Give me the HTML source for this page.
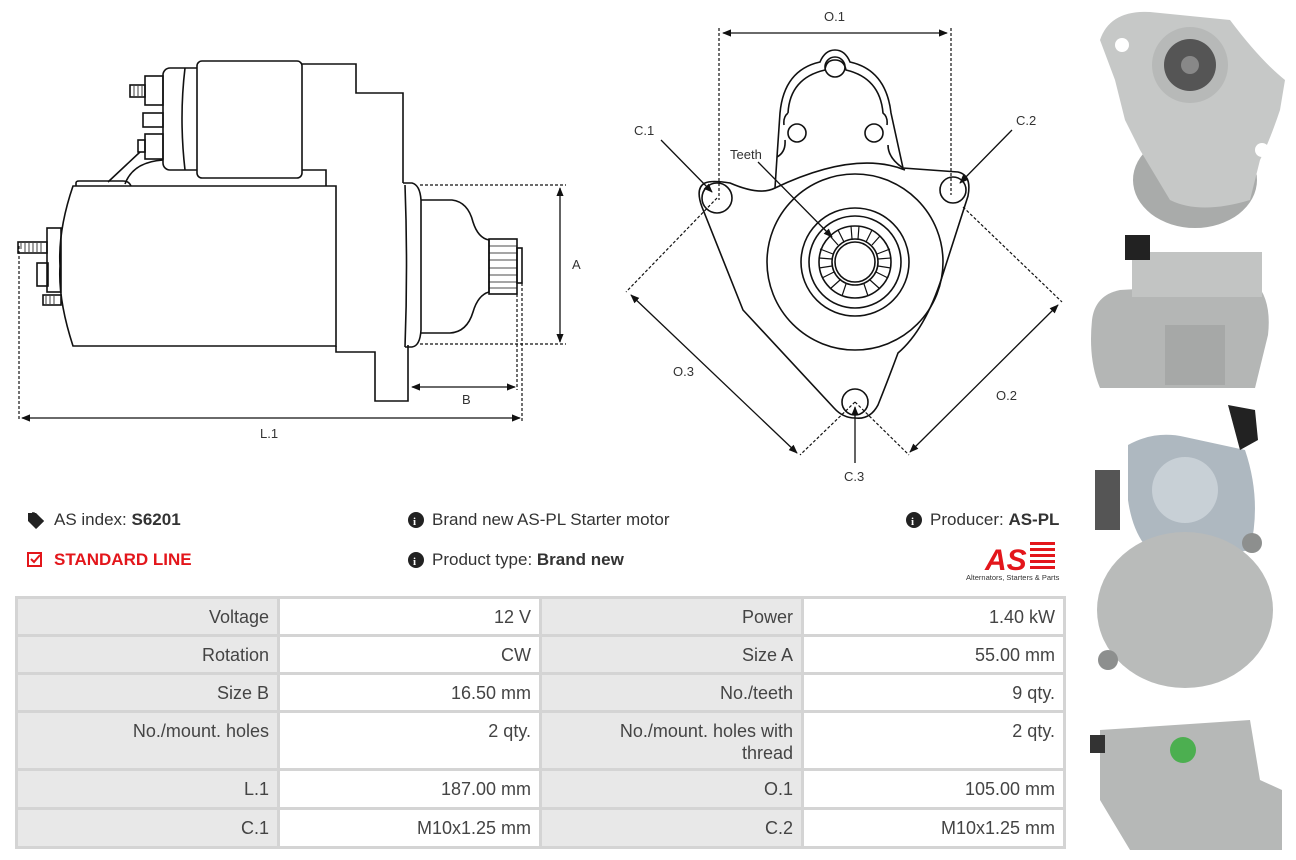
<!DOCTYPE html>
<html><head><meta charset="utf-8"><style>
*{margin:0;padding:0;box-sizing:border-box}
body{width:1296px;height:860px;background:#fff;position:relative;overflow:hidden;font-family:"Liberation Sans",sans-serif;color:#333}
.t{position:absolute;font-size:17px;white-space:nowrap;line-height:20px}
table{position:absolute;left:15px;top:596px;border-collapse:collapse;font-size:18px;color:#444;table-layout:fixed;width:1048px}
td{border:3px solid #d4d4d4;text-align:right;vertical-align:top;padding:7px 8px 0 8px;line-height:22px}
td.l{background:#e8e8e8}
td.v{background:#fff}
</style></head><body>
<svg width="1296" height="860" style="position:absolute;left:0;top:0" fill="none" stroke="#111" stroke-width="1.6" font-family="Liberation Sans,sans-serif">
<defs><marker id="a" viewBox="0 0 10 10" refX="9" refY="5" markerWidth="7" markerHeight="7" orient="auto-start-reverse"><path d="M0 1L10 5L0 9z" fill="#111" stroke="none"/></marker></defs>
<!-- side view -->
<rect x="197" y="61" width="105" height="117" rx="5"/>
<path d="M197 68H170a7 7 0 0 0-7 7v88a7 7 0 0 0 7 7h27"/>
<path d="M185 68q-6 50 0 102"/>
<rect x="145" y="76" width="18" height="29"/><rect x="130" y="85" width="15" height="12"/>
<rect x="143" y="113" width="20" height="14"/>
<rect x="145" y="134" width="18" height="25"/><rect x="138" y="140" width="7" height="12"/>
<path d="M140 152L108 182M163 160q-30 2-38 24"/>
<path d="M76 186v-3q0-2 3-2h44q6 0 8 5"/>
<path d="M302 64H356V93H403V183"/>
<path d="M302 170H326V186"/>
<path d="M73 186H336V346H73Q58 300 60 266Q58 230 73 186Z"/>
<path d="M336 346V352H375V401H408V345"/>
<path d="M403 183H412Q420 185 421 200V330Q420 346 412 347H405"/>
<path d="M405 185Q408 266 405 347"/>
<path d="M421 200H452Q468 202 473 222Q478 238 489 240V292Q478 295 473 312Q467 332 450 333H421"/>
<rect x="489" y="239" width="28" height="55"/>
<path d="M489 246H517M489 253H517M489 260H517M489 268H517M489 275H517M489 282H517M489 288H517" stroke-width="0.8"/>
<rect x="517" y="248" width="5" height="35"/>
<rect x="47" y="228" width="14" height="64"/><rect x="37" y="263" width="11" height="23"/>
<rect x="18" y="242" width="29" height="11"/><rect x="43" y="295" width="18" height="10"/>
<path d="M21 243v6M25 243v9M29 243v9M33 243v9M37 243v9M41 243v9M46 296v8M50 296v8M54 296v8M134 86v10M138 86v10M142 86v10" stroke-width="0.8"/>
<g stroke-dasharray="3 2" stroke-width="1.2">
<path d="M420 185H566M420 344H566M19 246V421M522 283V421M517 294V390"/></g>
<path d="M560 188V342" marker-start="url(#a)" marker-end="url(#a)" stroke-width="1.3"/>
<path d="M412 387H515" marker-start="url(#a)" marker-end="url(#a)" stroke-width="1.3"/>
<path d="M22 418H520" marker-start="url(#a)" marker-end="url(#a)" stroke-width="1.3"/>
<g fill="#333" stroke="none" font-size="13"><text x="572" y="269">A</text><text x="462" y="404">B</text><text x="260" y="438">L.1</text></g>
<!-- front view -->
<path d="M705 183Q712 180 730 183Q760 196 775 188L777 157L780 113Q784 70 820 62Q825 50 835 50Q845 50 850 62Q886 70 891 113L903 168L958 172Q972 175 968 196L942 277Q925 330 898 353Q888 380 878 405Q870 420 855 418Q843 418 834 408L743 310L702 207Q695 188 705 183Z"/>
<path d="M788 113Q790 78 825 70Q826 60 835 60Q844 60 846 70Q880 78 883 113Q888 117 887 125M788 113Q783 117 784 125M777 157Q786 152 785 140M903 168Q888 158 888 145"/>
<path d="M775 188Q855 150 905 170"/>
<circle cx="835" cy="67" r="10"/><circle cx="797" cy="133" r="9"/><circle cx="874" cy="133" r="9"/>
<circle cx="717" cy="198" r="15"/><circle cx="953" cy="190" r="13"/><circle cx="855" cy="402" r="13"/>
<circle cx="855" cy="262" r="88"/>
<circle cx="855" cy="262" r="54"/><circle cx="855" cy="262" r="46"/><circle cx="855" cy="262" r="36"/><circle cx="855" cy="262" r="23"/><circle cx="855" cy="262" r="20"/>
<g stroke-width="1.2">
<path d="M852 239L851 226M858 239L859 226M866 242L872 230M872 245L880 236M877 254L890 249M878 259L891 258M878 266L891 268M876 272L888 278M870 280L880 289M864 284L868 296M846 284L842 296M840 280L830 289M834 272L822 278M832 266L819 268M832 259L819 258M833 254L820 249M838 245L830 236M844 242L838 230"/></g>
<g stroke-dasharray="3 2" stroke-width="1.2">
<path d="M719 28V200M951 28V195M717 198L626 292M855 402L800 455M963 207L1062 302M855 402L909 455"/></g>
<g stroke-width="1.3">
<path d="M723 33H947" marker-start="url(#a)" marker-end="url(#a)"/>
<path d="M631 295L797 453" marker-start="url(#a)" marker-end="url(#a)"/>
<path d="M1058 305L910 452" marker-start="url(#a)" marker-end="url(#a)"/>
<path d="M661 140L712 192" marker-end="url(#a)"/>
<path d="M1012 130L960 183" marker-end="url(#a)"/>
<path d="M758 162L832 237" marker-end="url(#a)"/>
<path d="M855 463V407" marker-end="url(#a)"/></g>
<g fill="#333" stroke="none" font-size="13"><text x="824" y="21">O.1</text><text x="634" y="135">C.1</text><text x="1016" y="125">C.2</text><text x="730" y="159">Teeth</text><text x="673" y="376">O.3</text><text x="996" y="400">O.2</text><text x="844" y="481">C.3</text></g>
<!-- photos -->
<g stroke="none">
<ellipse cx="1195" cy="180" rx="62" ry="48" fill="#a9abaa"/>
<path d="M1100 40Q1110 10 1150 12L1230 20Q1260 60 1285 80L1280 110Q1270 140 1260 160L1250 200Q1200 215 1170 200L1140 150L1125 120L1115 80Z" fill="#c6c8c7"/>
<circle cx="1190" cy="65" r="38" fill="#b7b9b8"/><circle cx="1190" cy="65" r="26" fill="#555"/><circle cx="1190" cy="65" r="9" fill="#888"/>
<circle cx="1122" cy="45" r="7" fill="#fff"/><circle cx="1262" cy="150" r="7" fill="#fff"/>
<path d="M1092 320Q1095 295 1120 290L1255 282Q1272 300 1268 335L1255 388H1100Q1088 360 1092 320Z" fill="#b4b6b5"/>
<rect x="1132" y="252" width="130" height="45" fill="#c2c4c3"/>
<rect x="1125" y="235" width="25" height="25" fill="#222"/>
<rect x="1165" y="325" width="60" height="60" fill="#a6a8a7"/>
<path d="M1128 445Q1155 430 1185 437L1245 450Q1262 500 1250 550L1170 565Q1135 550 1128 500Z" fill="#aeb8c0"/>
<circle cx="1185" cy="490" r="33" fill="#c8d0d6"/>
<ellipse cx="1185" cy="610" rx="88" ry="78" fill="#b9bbba"/>
<circle cx="1108" cy="660" r="10" fill="#8d8f8e"/><circle cx="1252" cy="543" r="10" fill="#8d8f8e"/>
<rect x="1095" y="470" width="25" height="60" fill="#555"/>
<path d="M1228 405L1255 410L1258 440L1240 450Z" fill="#222"/>
<path d="M1100 730L1250 720L1260 780L1282 790V850H1130L1100 800Z" fill="#b6b8b7"/>
<circle cx="1183" cy="750" r="13" fill="#4caf50"/>
<rect x="1090" y="735" width="15" height="18" fill="#333"/>
</g>
<!-- icons -->
<g fill="#222" stroke="none">
<path d="M28 513h8l8 8-8 8-8-8z"/><path d="M32 513h2l9 8-7 7" fill="none" stroke="#222" stroke-width="1.5"/>
<circle cx="416" cy="520" r="8"/><circle cx="416" cy="560" r="8"/><circle cx="914" cy="520" r="8"/>
</g>
<g fill="#fff" stroke="none" font-size="11" font-weight="bold" font-family="Liberation Serif,serif"><text x="413" y="525">i</text><text x="413" y="565">i</text><text x="911" y="525">i</text></g>
<rect x="28" y="553" width="13" height="13" stroke="#e3161b" stroke-width="2"/>
<path d="M31 559l3 3 6-7" stroke="#e3161b" stroke-width="2"/>
<!-- logo -->
<g stroke="none" fill="#e3161b">
<text x="985" y="570" font-size="30" font-weight="bold" font-style="italic" font-family="Liberation Sans,sans-serif">AS</text>
<rect x="1030" y="542" width="25" height="3"/><rect x="1030" y="548" width="25" height="3"/><rect x="1030" y="554" width="25" height="3"/><rect x="1030" y="560" width="25" height="3"/><rect x="1030" y="566" width="25" height="3"/>
</g>
<text x="966" y="580" font-size="7.5" fill="#333" stroke="none">Alternators, Starters &amp; Parts</text>
</svg>
<div class="t" style="left:54px;top:510px">AS index: <b>S6201</b></div>
<div class="t" style="left:432px;top:510px">Brand new AS-PL Starter motor</div>
<div class="t" style="left:930px;top:510px">Producer: <b>AS-PL</b></div>
<div class="t" style="left:54px;top:550px;color:#e3161b;font-weight:bold">STANDARD LINE</div>
<div class="t" style="left:432px;top:550px">Product type: <b>Brand new</b></div>
<table>
<colgroup><col style="width:262px"><col style="width:262px"><col style="width:262px"><col style="width:262px"></colgroup>
<tr style="height:38px"><td class="l">Voltage</td><td class="v">12 V</td><td class="l">Power</td><td class="v">1.40 kW</td></tr>
<tr style="height:38px"><td class="l">Rotation</td><td class="v">CW</td><td class="l">Size A</td><td class="v">55.00 mm</td></tr>
<tr style="height:38px"><td class="l">Size B</td><td class="v">16.50 mm</td><td class="l">No./teeth</td><td class="v">9 qty.</td></tr>
<tr style="height:58px"><td class="l">No./mount. holes</td><td class="v">2 qty.</td><td class="l">No./mount. holes with<br>thread</td><td class="v">2 qty.</td></tr>
<tr style="height:39px"><td class="l">L.1</td><td class="v">187.00 mm</td><td class="l">O.1</td><td class="v">105.00 mm</td></tr>
<tr style="height:39px"><td class="l">C.1</td><td class="v">M10x1.25 mm</td><td class="l">C.2</td><td class="v">M10x1.25 mm</td></tr>
</table>
</body></html>
